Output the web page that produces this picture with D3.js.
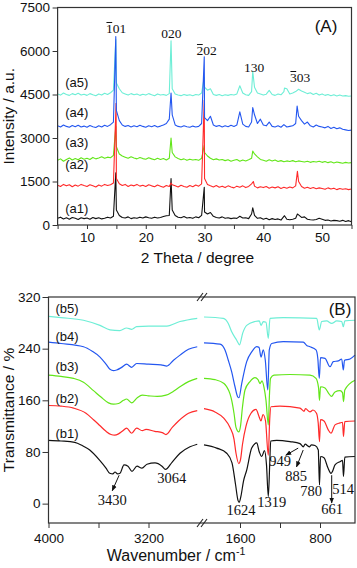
<!DOCTYPE html>
<html>
<head>
<meta charset="utf-8">
<style>
  body { margin: 0; background: #fff; }
  svg text { font-family: "Liberation Sans", Arial, sans-serif; fill: #111; }
  svg text.serif { font-family: "Liberation Serif", "Times New Roman", serif; }
</style>
<title>XRD and FTIR</title>
</head>
<body>
<script src="https://cdn.jsdelivr.net/npm/d3@7"></script>
<script>

// ---------- DATA: XRD (panel A) ----------
var xrdNames = ["(a1)", "(a2)", "(a3)", "(a4)", "(a5)"];
var xrdTicks = [5, 10, 15, 20, 25, 30, 35, 40, 45, 50, 55];
var intTicks = [0, 1500, 3000, 4500, 6000, 7500];

// sampling grid in 2 theta
var theta = [5, 5.5, 6, 6.5, 7, 7.5, 8, 8.5, 9, 9.5,
  10, 10.5, 11, 11.5, 12, 12.5, 13, 13.5, 14, 14.5,
  15, 15.5, 16, 16.5, 17, 17.5, 18, 18.5, 19, 19.5,
  20, 20.5, 21, 21.5, 22, 22.5, 23, 23.5, 24, 24.5,
  25, 25.5, 26, 26.5, 27, 27.5, 28, 28.5, 29, 29.5,
  30, 30.5, 31, 31.5, 32, 32.5, 33, 33.5, 34, 34.5,
  35, 35.5, 36, 36.5, 37, 37.5, 38, 38.5, 39, 39.5,
  40, 40.5, 41, 41.5, 42, 42.5, 43, 43.5, 44, 44.5,
  45, 45.5, 46, 46.5, 47, 47.5, 48, 48.5, 49, 49.5,
  50, 50.5, 51, 51.5, 52, 52.5, 53, 53.5, 54, 54.5, 55];

var a1 = [230, 270, 210, 250, 200, 260, 230, 190, 250, 220,
  240, 200, 260, 220, 250, 210, 230, 270, 240, 300,
  520, 330, 260, 240, 280, 220, 250, 230, 270, 240,
  280, 250, 230, 270, 240, 260, 290, 320, 330, 520,
  330, 270, 250, 290, 240, 260, 230, 280, 250, 330,
  450, 380, 430, 300, 260, 240, 280, 230, 250, 220,
  240, 230, 300, 240, 250, 220, 380, 330, 230, 250,
  200, 230, 180, 220, 190, 210, 170, 300, 200, 180,
  200, 230, 350, 260, 280, 200, 180, 170, 190, 230,
  200, 160, 170, 140, 160, 150, 130, 160, 120, 150, 110];
var a1Peaks = [[14.9, 1800], [24.3, 1600], [29.95, 1300], [38.2, 590], [43.6, 320], [45.8, 380]];

var a2 = [1370, 1330, 1400, 1350, 1390, 1320, 1380, 1340, 1400, 1360,
  1330, 1390, 1350, 1310, 1380, 1340, 1400, 1360, 1390, 1450,
  1600, 1420, 1360, 1400, 1330, 1380, 1350, 1400, 1340, 1370,
  1330, 1390, 1350, 1320, 1380, 1340, 1300, 1360, 1330, 1390,
  1350, 1310, 1370, 1330, 1300, 1360, 1320, 1380, 1340, 1420,
  1600, 1400, 1350, 1310, 1360, 1300, 1340, 1290, 1350, 1310,
  1280, 1340, 1300, 1350, 1290, 1330, 1420, 1340, 1280, 1320,
  1290, 1330, 1270, 1310, 1280, 1320, 1260, 1300, 1270, 1310,
  1280, 1350, 1500, 1330, 1270, 1300, 1260, 1290, 1250, 1280,
  1260, 1230, 1280, 1240, 1270, 1220, 1260, 1230, 1250, 1220, 1240];
var a2Peaks = [[14.95, 4200], [24.3, 1450], [29.95, 4300], [38.3, 1500], [45.8, 1850]];

var a3 = [2230, 2280, 2200, 2260, 2310, 2240, 2290, 2250, 2320, 2270,
  2300, 2260, 2330, 2280, 2310, 2350, 2300, 2340, 2320, 2400,
  2700, 2450, 2380, 2340, 2300, 2350, 2310, 2280, 2330, 2290,
  2270, 2320, 2280, 2250, 2300, 2260, 2290, 2240, 2300, 2500,
  2350, 2290, 2250, 2280, 2230, 2270, 2240, 2260, 2230, 2300,
  2500, 2380, 2300, 2250, 2280, 2240, 2260, 2220, 2250, 2200,
  2230, 2260, 2200, 2240, 2210, 2250, 2300, 2450, 2350, 2260,
  2230, 2200, 2250, 2210, 2240, 2190, 2220, 2180, 2210, 2190,
  2220, 2180, 2210, 2190, 2170, 2200, 2160, 2190, 2170, 2200,
  2160, 2190, 2150, 2180, 2140, 2170, 2150, 2130, 2160, 2140, 2150];
var a3Peaks = [[14.9, 3400], [24.3, 3000], [29.95, 2750], [38.2, 2550]];

var a4 = [3420, 3380, 3450, 3400, 3370, 3430, 3390, 3440, 3380, 3410,
  3370, 3430, 3390, 3360, 3420, 3380, 3440, 3400, 3460, 3550,
  3950, 3600, 3450, 3400, 3430, 3380, 3420, 3390, 3440, 3400,
  3370, 3420, 3390, 3430, 3380, 3410, 3450, 3500, 3650, 3800,
  3450, 3400, 3380, 3420, 3390, 3370, 3410, 3380, 3400, 3500,
  3700, 3600, 3750, 3450, 3400, 3430, 3380, 3420, 3390, 3440,
  3400, 3450, 3900, 3480, 3400, 3380, 3550, 3800, 3500, 3650,
  3450, 3420, 3550, 3400, 3380, 3420, 3370, 3460, 3380, 3400,
  3420, 3500, 3750, 3600, 3480, 3550, 3420, 3380, 3450, 3400,
  3380, 3350, 3400, 3330, 3370, 3320, 3350, 3300, 3280, 3260, 3270];
var a4Peaks = [[14.9, 6500], [24.3, 4550], [29.95, 5800], [38.2, 4050], [45.75, 4100]];

var a5 = [4520, 4480, 4550, 4500, 4470, 4530, 4490, 4540, 4480, 4510,
  4470, 4530, 4490, 4460, 4520, 4480, 4540, 4500, 4560, 4650,
  4900, 4700, 4560, 4520, 4480, 4530, 4490, 4520, 4470, 4510,
  4480, 4530, 4490, 4460, 4520, 4480, 4500, 4470, 4530, 4700,
  4520, 4480, 4460, 4500, 4470, 4490, 4460, 4500, 4480, 4550,
  4750, 4650, 4700, 4500, 4470, 4500, 4460, 4490, 4470, 4500,
  4480, 4520, 4800, 4550, 4490, 4470, 4600, 4750, 4550, 4520,
  4480, 4510, 4640, 4500, 4470, 4520, 4490, 4600, 4700, 4520,
  4550, 4600, 4680, 4620, 4580, 4530, 4560, 4500, 4540, 4480,
  4520, 4470, 4500, 4460, 4490, 4450, 4480, 4450, 4460, 4440, 4450];
var a5Peaks = [[14.9, 6400], [24.3, 6350], [29.95, 5100], [38.2, 5300], [43.6, 4720]];

// ---------- DATA: FTIR (panel B) ----------
var ftirNames = ["(b1)", "(b2)", "(b3)", "(b4)", "(b5)"];
var transTicks = [0, 80, 160, 240, 320];
var wnTicksLeft = [4000, 3600, 3200];
var wnTicksRight = [1600, 1200, 800];

var b1Left = [[4000, 98], [3900, 97], [3790, 95], [3730, 90], [3670, 83], [3590, 67], [3540, 55], [3510, 47],
  [3485, 46], [3468, 49], [3448, 46], [3428, 47], [3396, 60], [3364, 58], [3332, 50], [3292, 58], [3252, 55],
  [3212, 61], [3148, 63], [3092, 58], [3064, 53], [3012, 64], [2948, 78], [2868, 88], [2810, 92]];
var b1Right = [[1960, 91], [1833, 86], [1733, 78], [1680, 63], [1645, 30], [1620, 5], [1608, 2], [1590, 12],
  [1565, 35], [1533, 52], [1483, 86], [1433, 94], [1407, 80], [1383, 73], [1355, 82], [1335, 60], [1317, 11],
  [1303, 60], [1293, 97], [1233, 98], [1100, 96], [1000, 93], [967, 88], [949, 92], [907, 88], [885, 91],
  [850, 90], [817, 83], [812, 60], [805, 29], [795, 73], [760, 71], [720, 55], [690, 47], [675, 50],
  [650, 60], [600, 65], [575, 67], [565, 42], [552, 72], [450, 73]];

var b2Left = [[4000, 152], [3900, 151], [3800, 148], [3700, 140], [3640, 130], [3590, 121], [3540, 112],
  [3500, 107], [3470, 106], [3440, 108], [3410, 112], [3375, 117], [3335, 109], [3295, 117], [3250, 113],
  [3220, 115], [3150, 112], [3090, 110], [3060, 107], [3010, 118], [2960, 128], [2880, 140], [2810, 144]];
var b2Right = [[1960, 147], [1850, 142], [1760, 132], [1700, 118], [1660, 100], [1640, 78], [1612, 62],
  [1595, 68], [1575, 92], [1540, 120], [1490, 140], [1440, 146], [1410, 135], [1390, 128], [1370, 138],
  [1345, 128], [1317, 75], [1303, 130], [1290, 150], [1200, 151], [1000, 148], [960, 143], [945, 147],
  [900, 142], [870, 145], [835, 140], [818, 125], [805, 96], [795, 130], [760, 128], [720, 115], [690, 109],
  [650, 122], [600, 125], [575, 126], [565, 104], [552, 127], [450, 128]];

var b3Left = [[4000, 199], [3900, 197], [3800, 194], [3720, 188], [3640, 175], [3580, 165], [3520, 156],
  [3480, 154], [3440, 155], [3400, 160], [3375, 162], [3335, 156], [3290, 164], [3250, 168], [3200, 167],
  [3130, 166], [3060, 168], [3000, 174], [2948, 181], [2880, 189], [2810, 194]];
var b3Right = [[1960, 194], [1850, 192], [1760, 186], [1733, 181], [1700, 170], [1683, 160], [1660, 140],
  [1640, 118], [1612, 111], [1595, 120], [1575, 150], [1550, 176], [1500, 189], [1450, 195], [1420, 192],
  [1400, 186], [1380, 190], [1360, 180], [1340, 160], [1317, 122], [1305, 170], [1295, 194], [1260, 199],
  [1100, 200], [900, 199], [840, 194], [815, 180], [805, 160], [795, 181], [750, 179], [710, 170], [685, 166],
  [650, 173], [600, 175], [575, 172], [565, 158], [552, 176], [450, 191]];

var b4Left = [[4000, 250], [3900, 248], [3720, 243], [3650, 236], [3588, 227], [3540, 216], [3508, 208],
  [3480, 206], [3455, 207], [3415, 211], [3375, 216], [3335, 211], [3295, 217], [3200, 216], [3100, 215],
  [3053, 213], [3000, 222], [2948, 230], [2880, 239], [2810, 243]];
var b4Right = [[1960, 249], [1800, 247], [1750, 238], [1717, 222], [1683, 204], [1650, 181], [1625, 166],
  [1610, 164], [1583, 186], [1533, 220], [1483, 235], [1433, 243], [1410, 242], [1390, 227], [1367, 238],
  [1347, 222], [1322, 176], [1307, 238], [1283, 248], [1167, 251], [967, 250], [933, 245], [900, 243],
  [840, 238], [822, 225], [807, 194], [795, 226], [750, 225], [700, 212], [667, 220], [617, 221],
  [583, 224], [567, 207], [555, 222], [500, 224], [450, 230]];

var b5Left = [[4000, 290], [3900, 288], [3720, 284], [3588, 276], [3508, 269], [3430, 268], [3375, 272],
  [3335, 270], [3295, 274], [3200, 275], [3053, 275], [2948, 282], [2810, 287]];
var b5Right = [[1960, 289], [1767, 287], [1717, 279], [1683, 266], [1633, 253], [1605, 246], [1573, 264],
  [1533, 276], [1450, 282], [1407, 283], [1390, 276], [1367, 282], [1340, 281], [1317, 256], [1300, 287],
  [1167, 288], [833, 287], [807, 269], [783, 282], [733, 283], [683, 279], [633, 283], [583, 282],
  [567, 274], [552, 283], [450, 284]];

// ---------- STYLE ----------
var colors = ["#111111", "#ff2a2a", "#62e619", "#2457f0", "#6eeed6"];
var frame = "#333";

var svg = d3.select("body").append("svg")
  .attr("width", 357)
  .attr("height", 568);

function styleAxis(g) {
  g.select(".domain").remove();
  g.selectAll(".tick line").attr("stroke", frame);
  g.selectAll(".tick text")
    .attr("font-size", 13.5)
    .attr("font-family", "Liberation Sans, Arial, sans-serif")
    .attr("fill", "#111");
}

// ========== PANEL A ==========
var x = d3.scaleLinear().domain([5, 55]).range([57.6, 351.5]);
var y = d3.scaleLinear().domain([0, 7500]).range([225, 7.5]);

function pattern(vals, peaks) {
  var pts = theta.map(function(t, i) { return [t, vals[i]]; });
  return pts.concat(peaks).sort(function(p, q) { return p[0] - q[0]; });
}

var xrd = [pattern(a1, a1Peaks), pattern(a2, a2Peaks), pattern(a3, a3Peaks),
  pattern(a4, a4Peaks), pattern(a5, a5Peaks)];

var lineA = d3.line()
  .x(function(d) { return x(d[0]); })
  .y(function(d) { return y(d[1]); });

// drawing order so blue sits on top as in the figure
[0, 2, 1, 4, 3].forEach(function(i) {
  svg.append("path")
    .attr("d", lineA(xrd[i]))
    .attr("fill", "none")
    .attr("stroke", colors[i])
    .attr("stroke-width", 1.1)
    .attr("stroke-linejoin", "round");
});

svg.append("rect")
  .attr("x", x(5)).attr("y", y(7500))
  .attr("width", x(55) - x(5)).attr("height", y(0) - y(7500))
  .attr("fill", "none").attr("stroke", frame).attr("stroke-width", 1.2);

svg.append("g")
  .attr("transform", "translate(0," + y(0) + ")")
  .call(d3.axisBottom(x).tickValues(xrdTicks).tickSize(4).tickPadding(3)
    .tickFormat(function(d) { return d % 10 === 0 ? d : ""; }))
  .call(styleAxis);

svg.append("g")
  .attr("transform", "translate(" + x(5) + ",0)")
  .call(d3.axisLeft(y).tickValues(intTicks).tickSize(5).tickPadding(2.5)
    .tickFormat(d3.format("d")))
  .call(styleAxis);

// series labels
var aLabelY = [415, 1930, 2690, 3720, 4770];
xrdNames.forEach(function(n, i) {
  svg.append("text")
    .attr("x", x(6.3)).attr("y", y(aLabelY[i]))
    .attr("font-size", 13)
    .text(n);
});

// reflection indices, with a bar over the first digit when negative
function miller(cx, cy, txt, bar) {
  var fs = 13.5;
  var t = svg.append("text").attr("class", "serif")
    .attr("x", cx).attr("y", cy)
    .attr("text-anchor", "middle")
    .attr("font-size", fs)
    .text(txt);
  if (bar) {
    var s = t.node().getStartPositionOfChar(0);
    var e = t.node().getEndPositionOfChar(0);
    svg.append("line")
      .attr("x1", s.x + 0.5).attr("x2", e.x - 0.5)
      .attr("y1", cy - fs * 0.78).attr("y2", cy - fs * 0.78)
      .attr("stroke", "#111").attr("stroke-width", 1);
  }
}
miller(x(14.95), y(6620), "101", true);
miller(x(24.35), y(6450), "020", false);
miller(x(30.35), y(5860), "202", true);
miller(x(38.45), y(5275), "130", false);
miller(x(46.25), y(4930), "303", true);

svg.append("text")
  .attr("x", 326).attr("y", 32)
  .attr("text-anchor", "middle")
  .attr("font-size", 17)
  .text("(A)");

svg.append("text")
  .attr("x", 197.5).attr("y", 263)
  .attr("text-anchor", "middle")
  .attr("font-size", 15.5)
  .text("2 Theta / degree");

svg.append("text")
  .attr("transform", "translate(14," + ((y(0) + y(7500)) / 2) + ") rotate(-90)")
  .attr("text-anchor", "middle")
  .attr("font-size", 15.5)
  .text("Intensity / a.u.");

// ========== PANEL B ==========
var xL = d3.scaleLinear().domain([4000, 2800]).range([48.5, 198.5]);
var xR = d3.scaleLinear().domain([1960, 450]).range([204, 355]);
var yB = d3.scaleLinear().domain([-30, 320]).range([523, 297]);

var lineL = d3.line().x(function(d) { return xL(d[0]); }).y(function(d) { return yB(d[1]); })
  .curve(d3.curveMonotoneX);
var lineR = d3.line().x(function(d) { return xR(d[0]); }).y(function(d) { return yB(d[1]); })
  .curve(d3.curveMonotoneX);

var ftirLeft = [b1Left, b2Left, b3Left, b4Left, b5Left];
var ftirRight = [b1Right, b2Right, b3Right, b4Right, b5Right];

[4, 3, 2, 1, 0].forEach(function(i) {
  svg.append("path").attr("d", lineL(ftirLeft[i]))
    .attr("fill", "none").attr("stroke", colors[i]).attr("stroke-width", 1.2);
  svg.append("path").attr("d", lineR(ftirRight[i]))
    .attr("fill", "none").attr("stroke", colors[i]).attr("stroke-width", 1.2);
});

svg.append("rect")
  .attr("x", xL(4000)).attr("y", yB(320))
  .attr("width", xR(450) - xL(4000)).attr("height", yB(-30) - yB(320))
  .attr("fill", "none").attr("stroke", frame).attr("stroke-width", 1.2);

svg.append("g")
  .attr("transform", "translate(0," + yB(-30) + ")")
  .call(d3.axisBottom(xL).tickValues(wnTicksLeft).tickSize(5).tickPadding(5)
    .tickFormat(function(d) { return d === 3600 ? "" : d; }))
  .call(styleAxis);
svg.append("g")
  .attr("transform", "translate(0," + yB(-30) + ")")
  .call(d3.axisBottom(xR).tickValues(wnTicksRight).tickSize(5).tickPadding(5)
    .tickFormat(function(d) { return d === 1200 ? "" : d; }))
  .call(styleAxis);
svg.append("g")
  .attr("transform", "translate(" + xL(4000) + ",0)")
  .call(d3.axisLeft(yB).tickValues(transTicks).tickSize(6).tickPadding(2))
  .call(styleAxis);

// axis break marks
[yB(320), yB(-30)].forEach(function(yy) {
  [0, 4].forEach(function(off) {
    svg.append("line")
      .attr("x1", 197 + off).attr("y1", yy + 4)
      .attr("x2", 203 + off).attr("y2", yy - 4)
      .attr("stroke", "#222").attr("stroke-width", 1.1);
  });
});

var bLabelY = [438, 403, 371, 341, 313];
ftirNames.forEach(function(n, i) {
  svg.append("text")
    .attr("x", xL(3945)).attr("y", bLabelY[i])
    .attr("font-size", 13)
    .text(n);
});

// band annotations
svg.append("defs").append("marker")
  .attr("id", "arr")
  .attr("viewBox", "0 0 10 10").attr("refX", 9).attr("refY", 5)
  .attr("markerWidth", 6).attr("markerHeight", 6)
  .attr("orient", "auto")
  .append("path").attr("d", "M0,1 L10,5 L0,9 Z").attr("fill", "#111");

function band(txt, px, py) {
  svg.append("text").attr("class", "serif")
    .attr("x", px).attr("y", py)
    .attr("text-anchor", "middle")
    .attr("font-size", 14.5)
    .text(txt);
}
band("3430", xL(3490), yB(-2));
band("3064", xL(3015), yB(32));
band("1624", xR(1590), yB(-18));
band("1319", xR(1283), yB(-5));
band("949", xR(1200), yB(58));
band("885", xR(1040), yB(35));
band("780", xR(890), yB(12));
band("514", xR(570), yB(15));
band("661", xR(680), yB(-16));

function arrow(x1, y1, x2, y2) {
  svg.append("line")
    .attr("x1", x1).attr("y1", y1).attr("x2", x2).attr("y2", y2)
    .attr("stroke", "#111").attr("stroke-width", 1)
    .attr("marker-end", "url(#arr)");
}
arrow(xL(3435), yB(44), xL(3490), yB(20));
arrow(xR(1018), yB(86), xR(1142), yB(75));
arrow(xR(968), yB(83), xR(1035), yB(57));
arrow(xR(683), yB(44), xR(683), yB(1));

svg.append("text")
  .attr("x", 340).attr("y", 315)
  .attr("text-anchor", "middle")
  .attr("font-size", 17)
  .text("(B)");

var wt = svg.append("text")
  .attr("x", 176).attr("y", 561)
  .attr("text-anchor", "middle")
  .attr("font-size", 16);
wt.append("tspan").text("Wavenumber / cm");
wt.append("tspan").attr("dy", -6).attr("font-size", 10.5).text("-1");

svg.append("text")
  .attr("transform", "translate(14," + ((yB(320) + yB(-30)) / 2) + ") rotate(-90)")
  .attr("text-anchor", "middle")
  .attr("font-size", 15.5)
  .text("Transmittance / %");

</script>
</body>
</html>
